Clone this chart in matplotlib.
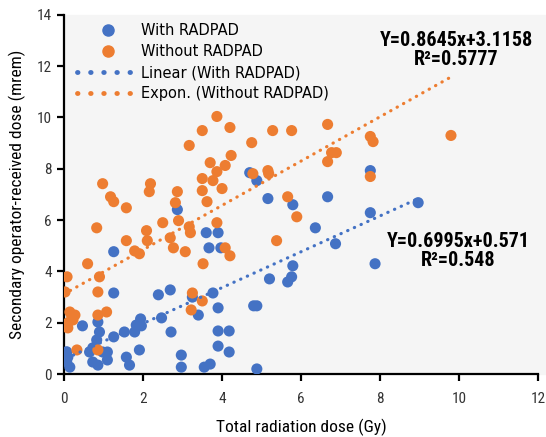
import matplotlib
matplotlib.use("Agg")
import matplotlib.pyplot as plt
from matplotlib.lines import Line2D
from matplotlib.patches import Rectangle

# With RADPAD: total dose (Gy) vs operator dose (mrem)
with_x = [0.07, 0.07, 0.15, 0.10, 0.47, 0.86, 0.90, 0.83, 0.73, 0.65, 0.73, 0.98, 1.10, 1.10,
          0.86, 1.26, 1.53, 1.58, 1.66, 1.79, 1.83, 1.94, 1.96, 1.91, 2.47, 2.71, 2.97, 2.97,
          1.26, 2.39, 2.69, 1.26, 2.87, 3.60, 3.90, 3.67, 3.97, 4.70, 4.88, 5.16, 5.79, 6.67,
          7.75, 7.75, 6.36, 6.87, 8.96, 7.87, 5.79, 5.76, 5.66, 5.20, 4.80, 4.88, 3.77, 3.90,
          3.40, 3.25, 3.90, 4.18, 3.90, 4.18, 3.55, 3.70, 4.88]
with_y = [0.87, 0.48, 0.27, 0.66, 1.88, 2.03, 1.64, 1.33, 1.02, 0.86, 0.47, 0.86, 0.86, 0.55,
          0.35, 1.45, 1.64, 0.66, 0.35, 1.64, 1.91, 2.15, 1.88, 0.94, 2.19, 1.64, 0.74, 0.27,
          3.16, 3.09, 3.28, 4.77, 6.41, 5.51, 5.51, 4.92, 4.92, 7.85, 7.54, 6.84, 6.60, 6.91,
          7.93, 6.29, 5.70, 5.08, 6.68, 4.30, 4.22, 3.79, 3.59, 3.71, 2.66, 2.66, 3.16, 2.58,
          2.30, 3.00, 1.68, 1.68, 1.09, 0.86, 0.27, 0.39, 0.20]

# Without RADPAD
without_x = [0.08, 0.03, 0.15, 0.20, 0.10, 0.23, 0.28, 0.10, 0.33, 0.86, 0.60, 0.90, 0.86, 0.86,
             1.08, 0.98, 1.18, 1.26, 1.58, 0.83, 1.58, 1.79, 1.91, 2.19, 2.16, 2.50, 2.09, 2.11,
             2.87, 2.82, 2.90, 2.69, 2.77, 3.07, 3.87, 3.50, 4.20, 3.17, 4.75, 4.23, 3.70, 4.08,
             3.87, 3.50, 3.77, 4.00, 3.50, 3.62, 3.17, 3.20, 3.87, 4.08, 4.20, 5.28, 5.76, 6.67,
             4.78, 5.16, 5.18, 6.67, 6.77, 6.89, 7.75, 7.82, 7.75, 5.66, 5.89, 5.38, 9.79, 3.52,
             3.25, 3.50, 3.22]
without_y = [3.79, 3.20, 2.42, 2.23, 1.99, 2.11, 2.30, 1.80, 0.94, 0.94, 4.30, 3.79, 3.20, 2.30,
             2.42, 7.42, 6.91, 6.72, 6.48, 5.70, 5.20, 4.80, 4.69, 7.42, 7.11, 5.90, 5.59, 5.20,
             7.11, 6.68, 5.98, 5.31, 4.92, 4.77, 10.04, 9.49, 9.61, 8.91, 9.02, 8.52, 8.24, 8.13,
             7.89, 7.62, 7.54, 7.23, 7.15, 6.72, 5.74, 5.51, 5.90, 4.92, 4.61, 9.49, 9.49, 9.73,
             7.81, 7.93, 7.81, 8.28, 8.63, 8.63, 9.26, 9.06, 7.70, 6.91, 6.13, 5.20, 9.30, 4.30,
             3.16, 2.85, 2.50]

# fitted trend lines as printed on the chart
fit_with = (0.6995, 0.571)
fit_without = (0.8645, 3.1158)
fit_with_x = [0.07, 8.96]
fit_without_x = [0.0, 9.79]

BLUE = "#4472C4"
ORANGE = "#ED7D31"
BG = "#F5F5F5"
NARROW = "Roboto Condensed"

fig = plt.figure(figsize=(5.46, 4.37), dpi=100)
ax = fig.add_axes([0.117, 0.144, 0.869, 0.822])
ax.set_facecolor(BG)
fig.patches.append(Rectangle((0.117, 0.144), 0.883, 0.822, transform=fig.transFigure,
                             color=BG, zorder=-10))

ax.scatter(with_x, with_y, s=64, color=BLUE, edgecolors="none", zorder=3)
ax.scatter(without_x, without_y, s=64, color=ORANGE, edgecolors="none", zorder=4)

dots = (0, (0.1, 2.2))
m, b = fit_with
ax.plot(fit_with_x, [m * x + b for x in fit_with_x], color=BLUE, ls=dots, lw=2.3,
        dash_capstyle="round", zorder=5)
m, b = fit_without
ax.plot(fit_without_x, [m * x + b for x in fit_without_x], color=ORANGE, ls=dots, lw=2.3,
        dash_capstyle="round", zorder=5)

ax.set_xlim(0, 12); ax.set_ylim(0, 14)
ax.set_xticks(range(0, 13, 2)); ax.set_yticks(range(0, 15, 2))
for s in ("top", "right"):
    ax.spines[s].set_visible(False)
for s in ("left", "bottom"):
    ax.spines[s].set_linewidth(1.6); ax.spines[s].set_color("black")
ax.tick_params(direction="out", length=5, width=1.6, colors="black", labelsize=11)
ax.tick_params(axis="x", pad=8)
for lab in ax.get_xticklabels() + ax.get_yticklabels():
    lab.set_family(NARROW); lab.set_color("#333333")

ax.set_xlabel("Total radiation dose (Gy)", family=NARROW, fontsize=12.5, labelpad=9)
ax.set_ylabel("Secondary operator-received dose (mrem)", family=NARROW, fontsize=12.5, labelpad=8)

ax.text(9.92, 12.62, "Y=0.8645x+3.1158\nR²=0.5777", family=NARROW, weight="bold",
        fontsize=14.5, ha="center", va="center", linespacing=1.0, zorder=6)
ax.text(9.97, 4.8, "Y=0.6995x+0.571\nR²=0.548", family=NARROW, weight="bold",
        fontsize=14.5, ha="center", va="center", linespacing=1.0, zorder=6)

leg_dots = (0, (0.1, 2.6))
handles = [
    Line2D([], [], ls="none", marker="o", ms=8, color=BLUE),
    Line2D([], [], ls="none", marker="o", ms=8, color=ORANGE),
    Line2D([], [], color=BLUE, ls=leg_dots, lw=3.5, dash_capstyle="round"),
    Line2D([], [], color=ORANGE, ls=leg_dots, lw=3.5, dash_capstyle="round"),
]
labels = ["With RADPAD", "Without RADPAD", "Linear (With RADPAD)", "Expon. (Without RADPAD)"]
ax.legend(handles, labels, loc="upper left", bbox_to_anchor=(0.0, 1.014), frameon=False,
          handlelength=4.2, handletextpad=0.2, labelspacing=0.42,
          prop={"family": "DejaVu Sans", "size": 10.5})

fig.savefig("out.png", dpi=100)
